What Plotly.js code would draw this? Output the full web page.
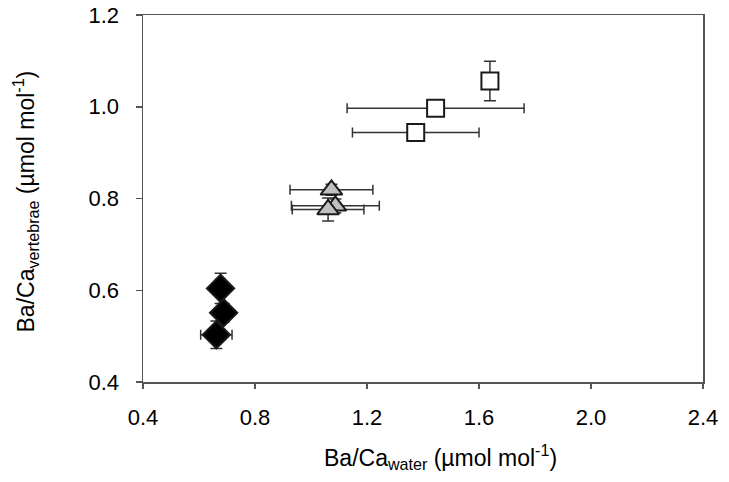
<!DOCTYPE html>
<html>
<head>
<meta charset="utf-8">
<script src="https://cdn.plot.ly/plotly-3.0.1.min.js"></script>
<style>
  html, body { margin: 0; padding: 0; background: #fff; }
  #graph { width: 729px; height: 482px; }
</style>
</head>
<body>
<div id="graph"></div>
<script>
// three groups
const diamondX = [0.677, 0.688, 0.662];
const diamondY = [0.604, 0.551, 0.503];
const diamondXErr = [0.02, 0.02, 0.056];
const diamondYErr = [0.033, 0.02, 0.03];

const triangleX = [1.073, 1.087, 1.061];
const triangleY = [0.819, 0.784, 0.776];
const triangleXErr = [0.148, 0.157, 0.128];
const triangleYErr = [0.012, 0.015, 0.025];

const squareX = [1.639, 1.445, 1.374];
const squareY = [1.056, 0.997, 0.944];
const squareXErr = [0.01, 0.316, 0.226];
const squareYErr = [0.043, 0.01, 0.01];

const xTicks = [0.4, 0.8, 1.2, 1.6, 2.0, 2.4];
const yTicks = [0.4, 0.6, 0.8, 1.0, 1.2];

const xTitle = "Ba/Ca<sub>water</sub> (µmol mol<sup>-1</sup>)";
const yTitle = "Ba/Ca<sub>vertebrae</sub> (µmol mol<sup>-1</sup>)";

const barColor = "#333333";
const axisColor = "#555555";

function makeTrace(x, y, xe, ye, symbol, size, fill) {
  return {
    x: x,
    y: y,
    type: "scatter",
    mode: "markers",
    marker: {
      symbol: symbol,
      size: size,
      color: fill,
      line: { color: "#1a1a1a", width: 2 },
    },
    error_x: { type: "data", array: xe, visible: true, color: barColor, thickness: 1.5, width: 5 },
    error_y: { type: "data", array: ye, visible: true, color: barColor, thickness: 1.5, width: 6 },
    hoverinfo: "x+y",
  };
}

let data = [
  makeTrace(squareX, squareY, squareXErr, squareYErr, "square", 17, "#ffffff"),
  makeTrace(triangleX, triangleY, triangleXErr, triangleYErr, "triangle-up", 19, "#c0c0c0"),
  makeTrace(diamondX, diamondY, diamondXErr, diamondYErr, "diamond", 21, "#000000"),
];

// titles as annotations so they can sit where the original has them
let titleAnnotations = [
  {
    xref: "paper",
    yref: "paper",
    x: 0.532,
    y: -0.205,
    xanchor: "center",
    yanchor: "middle",
    text: xTitle,
    showarrow: false,
    font: { size: 23 },
  },
  {
    xref: "paper",
    yref: "paper",
    x: -0.21,
    y: 0.493,
    xanchor: "center",
    yanchor: "middle",
    textangle: -90,
    text: yTitle,
    showarrow: false,
    font: { size: 23 },
  },
];

let layout = {
  width: 729,
  height: 482,
  paper_bgcolor: "#ffffff",
  plot_bgcolor: "#ffffff",
  showlegend: false,
  font: { family: "Liberation Sans, Arial, sans-serif", color: "#000000", size: 22 },
  margin: { l: 143, r: 26, t: 15, b: 100 },
  xaxis: {
    range: [0.4, 2.4],
    tickvals: xTicks,
    ticktext: xTicks.map((v) => v.toFixed(1)),
    ticks: "outside",
    ticklen: 5,
    tickcolor: axisColor,
    tickwidth: 1.5,
    ticklabelstandoff: 10,
    showline: true,
    linecolor: axisColor,
    linewidth: 1.5,
    mirror: true,
    showgrid: false,
    zeroline: false,
    tickfont: { size: 22 },
  },
  yaxis: {
    range: [0.4, 1.2],
    tickvals: yTicks,
    ticktext: yTicks.map((v) => v.toFixed(1)),
    ticks: "outside",
    ticklen: 6,
    tickcolor: axisColor,
    tickwidth: 1.5,
    ticklabelstandoff: 12,
    showline: true,
    linecolor: axisColor,
    linewidth: 1.5,
    mirror: true,
    showgrid: false,
    zeroline: false,
    tickfont: { size: 22 },
  },
  annotations: titleAnnotations,
};

Plotly.newPlot("graph", data, layout, { displayModeBar: false, staticPlot: true });
</script>
</body>
</html>
